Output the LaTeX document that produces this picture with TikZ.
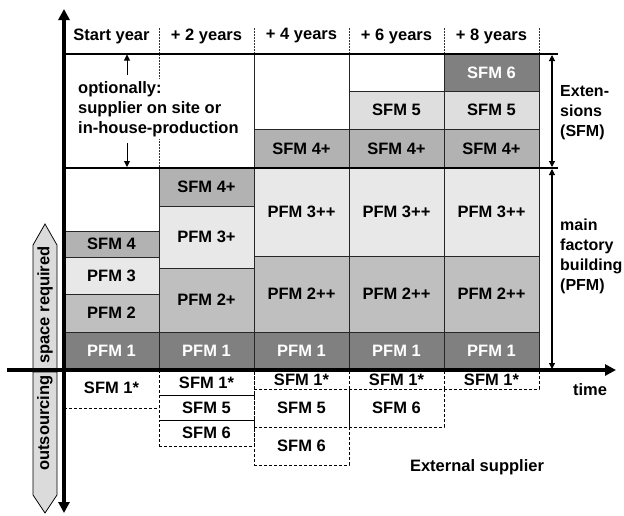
\documentclass[tikz,border=0pt]{standalone}
\usepackage{fontspec}
\setmainfont{Liberation Sans}
\usetikzlibrary{arrows.meta}
\definecolor{dk}{gray}{0.50}
\definecolor{md}{gray}{0.70}
\definecolor{mp}{gray}{0.75}
\definecolor{lt}{gray}{0.91}
\definecolor{sf}{gray}{0.87}
\definecolor{ar}{gray}{0.86}
\begin{document}
\begin{tikzpicture}[x=1pt,y=-1pt,
  every node/.style={font=\fontsize{16.5}{20}\selectfont\bfseries},
  cell/.style={draw=black!85, line width=0.8pt, anchor=north west, inner sep=0pt, outer sep=0pt, minimum width=95pt},
  dkcell/.style={cell, fill=dk, text=white},
  mdcell/.style={cell, fill=md},
  mpcell/.style={cell, fill=mp},
  ltcell/.style={cell, fill=lt},
  sfcell/.style={cell, fill=sf},
  outcell/.style={draw=black, line width=0.9pt, dash pattern=on 3pt off 2pt, anchor=north west, inner sep=0pt, outer sep=0pt, minimum width=95pt},
  outline/.style={draw=black, line width=0.9pt, dash pattern=on 3pt off 2pt},
  hdrsep/.style={draw=black!80, line width=0.8pt, dash pattern=on 2pt off 1pt},
  thick line/.style={draw=black, line width=2pt},
  gridline/.style={draw=black!85, line width=0.8pt},
  axisline/.style={draw=black, line width=3.2pt},
  bigtip/.style={-{Triangle[length=11pt,width=11pt]}},
  dbl/.style={draw=black, line width=1.1pt, {Triangle[length=6pt,width=6pt]}-{Triangle[length=6pt,width=6pt]}},
  small arrow/.style={draw=black, line width=0.9pt, -{Triangle[length=6pt,width=6pt]}},
  sidearrow/.style={draw=black, line width=0.8pt, fill=ar},
  sidelabel/.style={align=left, anchor=west, inner sep=0pt, font=\fontsize{16}{20}\selectfont\bfseries}
]
\useasboundingbox (0,0) rectangle (624,515);

% side arrow shapes
\path[sidearrow] (33,370) -- (33,245) -- (45,224) -- (57,245) -- (57,370) -- cycle;
\path[sidearrow] (33,372) -- (33,495) -- (45,513) -- (57,495) -- (57,372) -- cycle;
\node[rotate=90] (spreq) at (45,305) {space required};
\node[rotate=90] (outs) at (45,423) {outsourcing};

% header
\node (h1) at (111.5,36) {Start year};
\node (h2) at (206.5,36) {+ 2 years};
\node (h3) at (301.5,36) {+ 4 years};
\node (h4) at (396.5,36) {+ 6 years};
\node (h5) at (491.5,36) {+ 8 years};
\foreach \x/\n in {159/a,254/b,349/c,444/d,539/e}{
  \coordinate (ht\n) at (\x,28);
  \coordinate (hb\n) at (\x,54);
  \draw[hdrsep] (ht\n) -- (hb\n);
}

% extension area grid lines
\coordinate (ga1) at (159,54); \coordinate (ga2) at (159,168);
\coordinate (gb1) at (254,54); \coordinate (gb2) at (254,168);
\coordinate (gc1) at (349,54); \coordinate (gc2) at (349,168);
\draw[hdrsep] (ga1) -- (ga2);
\draw[gridline] (gb1) -- (gb2);
\draw[gridline] (gc1) -- (gc2);

% extension boxes
\node[dkcell, minimum height=37pt] (e56) at (444,54) {SFM 6};
\node[sfcell, minimum height=38pt] (e45) at (349,91) {SFM 5};
\node[sfcell, minimum height=38pt] (e55) at (444,91) {SFM 5};
\node[mdcell, minimum height=39pt] (e34) at (254,129) {SFM 4+};
\node[mdcell, minimum height=39pt] (e44) at (349,129) {SFM 4+};
\node[mdcell, minimum height=39pt] (e54) at (444,129) {SFM 4+};

% main factory boxes
\node[mdcell, minimum height=26pt] (m1s4) at (64,231) {SFM 4};
\node[ltcell, minimum height=37pt] (m1p3) at (64,257) {PFM 3};
\node[mpcell, minimum height=38pt] (m1p2) at (64,294) {PFM 2};
\node[dkcell, minimum height=38pt] (m1p1) at (64,332) {PFM 1};

\node[mdcell, minimum height=38pt] (m2s4) at (159,168) {SFM 4+};
\node[ltcell, minimum height=62pt] (m2p3) at (159,206) {PFM 3+};
\node[mpcell, minimum height=64pt] (m2p2) at (159,268) {PFM 2+};
\node[dkcell, minimum height=38pt] (m2p1) at (159,332) {PFM 1};

\foreach \x/\n in {254/3,349/4,444/5}{
  \node[ltcell, minimum height=88pt] (m\n p3) at (\x,168) {PFM 3++};
  \node[mpcell, minimum height=76pt] (m\n p2) at (\x,256) {PFM 2++};
  \node[dkcell, minimum height=38pt] (m\n p1) at (\x,332) {PFM 1};
}

% optional text with arrows
\node[fill=white, align=left, anchor=west, inner sep=2pt] (opt) at (76,109)
  {optionally:\\supplier on site or\\in-house-production};
\coordinate (oa1) at (127,75); \coordinate (oa2) at (127,54.5);
\coordinate (ob1) at (127,143); \coordinate (ob2) at (127,167);
\draw[small arrow] (oa1) -- (oa2);
\draw[small arrow] (ob1) -- (ob2);

% thick horizontal lines
\coordinate (l1a) at (64,54); \coordinate (l1b) at (558,54);
\coordinate (l2a) at (64,168); \coordinate (l2b) at (558,168);
\draw[thick line] (l1a) -- (l1b);
\draw[thick line] (l2a) -- (l2b);

% right brackets
\coordinate (r1) at (552,55); \coordinate (r2) at (552,167);
\coordinate (r3) at (552,169); \coordinate (r4) at (552,369);
\draw[dbl] (r1) -- (r2);
\draw[dbl] (r3) -- (r4);
\node[sidelabel] (ext) at (560,113) {Exten-\\sions\\(SFM)};
\node[sidelabel] (mfb) at (560,256) {main\\factory\\building\\(PFM)};

% outsourcing boxes
\node (o1) at (111.5,388) {SFM 1*};
\coordinate (o1a) at (64,408); \coordinate (o1b) at (159,408);
\draw[outline] (o1a) -- (o1b);
\node[outcell, minimum height=25pt] (o21) at (159,370) {SFM 1*};
\node[outcell, minimum height=25pt] (o25) at (159,395) {SFM 5};
\node[outcell, minimum height=26pt] (o26) at (159,420) {SFM 6};
\node[outcell, minimum height=19pt] (o31) at (254,370) {SFM 1*};
\node[outcell, minimum height=38pt] (o35) at (254,389) {SFM 5};
\node[outcell, minimum height=38pt] (o36) at (254,427) {SFM 6};
\node[outcell, minimum height=19pt] (o41) at (349,370) {SFM 1*};
\node[outcell, minimum height=38pt] (o46) at (349,389) {SFM 6};
\node[outcell, minimum height=19pt] (o51) at (444,370) {SFM 1*};

\node (time) at (590,390) {time};
\node (extsup) at (477,467) {External supplier};

% axes
\coordinate (xa) at (7,370); \coordinate (xb) at (616,370);
\coordinate (ya) at (64,513); \coordinate (yb) at (64,9);
\draw[axisline, bigtip] (xa) -- (xb);
\draw[axisline, {Triangle[length=11pt,width=11pt]}-{Triangle[length=11pt,width=11pt]}] (ya) -- (yb);
\end{tikzpicture}
\end{document}
